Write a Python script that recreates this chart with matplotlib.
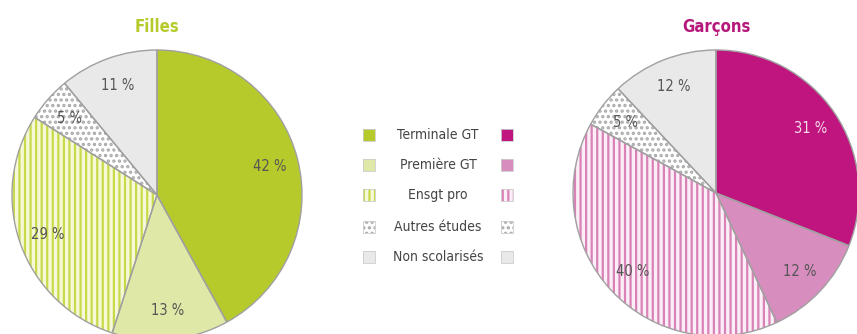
import matplotlib.pyplot as plt
from matplotlib.patches import Rectangle

plt.rcParams['font.family'] = ['DejaVu Sans']
plt.rcParams['font.stretch'] = 'condensed'
plt.rcParams['hatch.linewidth'] = 1.6

categories = ['Terminale GT', 'Première GT', 'Ensgt pro', 'Autres études', 'Non scolarisés']
filles = [42, 13, 29, 5, 11]
garcons = [31, 12, 40, 5, 12]

# fond, hachure, couleur de hachure pour chaque catégorie
fond_f = ['#b6cb2b', '#dfe8a6', '#f6f9d8', '#ffffff', '#e9e9e9']
fond_g = ['#c0147e', '#d88dbf', '#fbeef6', '#ffffff', '#e9e9e9']
hach = [None, None, '|||', '...', None]
hcol_f = [None, None, '#c8d94a', '#aaaaaa', None]
hcol_g = [None, None, '#d982b8', '#aaaaaa', None]
# couleur des pourcentages (blanc sur le magenta foncé)
txt_f = ['#555555'] * 5
txt_g = ['#f3dbe9', '#555555', '#555555', '#555555', '#555555']

W, H = 857, 334
fig = plt.figure(figsize=(W / 100, H / 100), dpi=100)
ax = fig.add_axes([0, 0, 1, 1])


def camembert(cx, cy, r, valeurs, fonds, hcols, tcols):
    wedges, _, textes = ax.pie(valeurs, colors=fonds, startangle=90, counterclock=False,
                               center=(cx, H - cy), radius=r,
                               autopct=lambda p: f'{round(p)} %', pctdistance=0.8,
                               wedgeprops=dict(linewidth=0),
                               textprops=dict(fontsize=10.5))
    for w, h, hc in zip(wedges, hach, hcols):
        if h:
            w.set_hatch(h)
            w.set_edgecolor(hc)
    for t, c in zip(textes, tcols):
        t.set_color(c)
    # contours gris par-dessus les hachures
    ax.pie(valeurs, startangle=90, counterclock=False, center=(cx, H - cy), radius=r,
           wedgeprops=dict(linewidth=1, edgecolor='#a0a0a0', fill=False))


camembert(157, 195, 145, filles, fond_f, hcol_f, txt_f)
camembert(716, 193, 143, garcons, fond_g, hcol_g, txt_g)

ax.text(157, H - 27, 'Filles', ha='center', va='center', fontsize=12,
        fontweight='bold', color='#b6cb2b')
ax.text(716, H - 27, 'Garçons', ha='center', va='center', fontsize=12,
        fontweight='bold', color='#b5177a')

# légende centrale
lignes = [135, 165, 195, 227, 257]
s = 12
for i, (cat, y) in enumerate(zip(categories, lignes)):
    for x, fonds, hcols in [(369, fond_f, hcol_f), (507, fond_g, hcol_g)]:
        rect = Rectangle((x - s / 2, H - y - s / 2), s, s, facecolor=fonds[i],
                         edgecolor=hcols[i] if hach[i] else 'none', linewidth=0,
                         hatch=hach[i])
        ax.add_patch(rect)
        ax.add_patch(Rectangle((x - s / 2, H - y - s / 2), s, s, fill=False,
                               edgecolor='#cccccc', linewidth=0.6))
    ax.text(438, H - y, cat, ha='center', va='center', fontsize=10, color='#444444')

ax.set_xlim(0, W)
ax.set_ylim(0, H)
ax.set_aspect('auto')
ax.axis('off')

fig.savefig('out.png', dpi=100)
